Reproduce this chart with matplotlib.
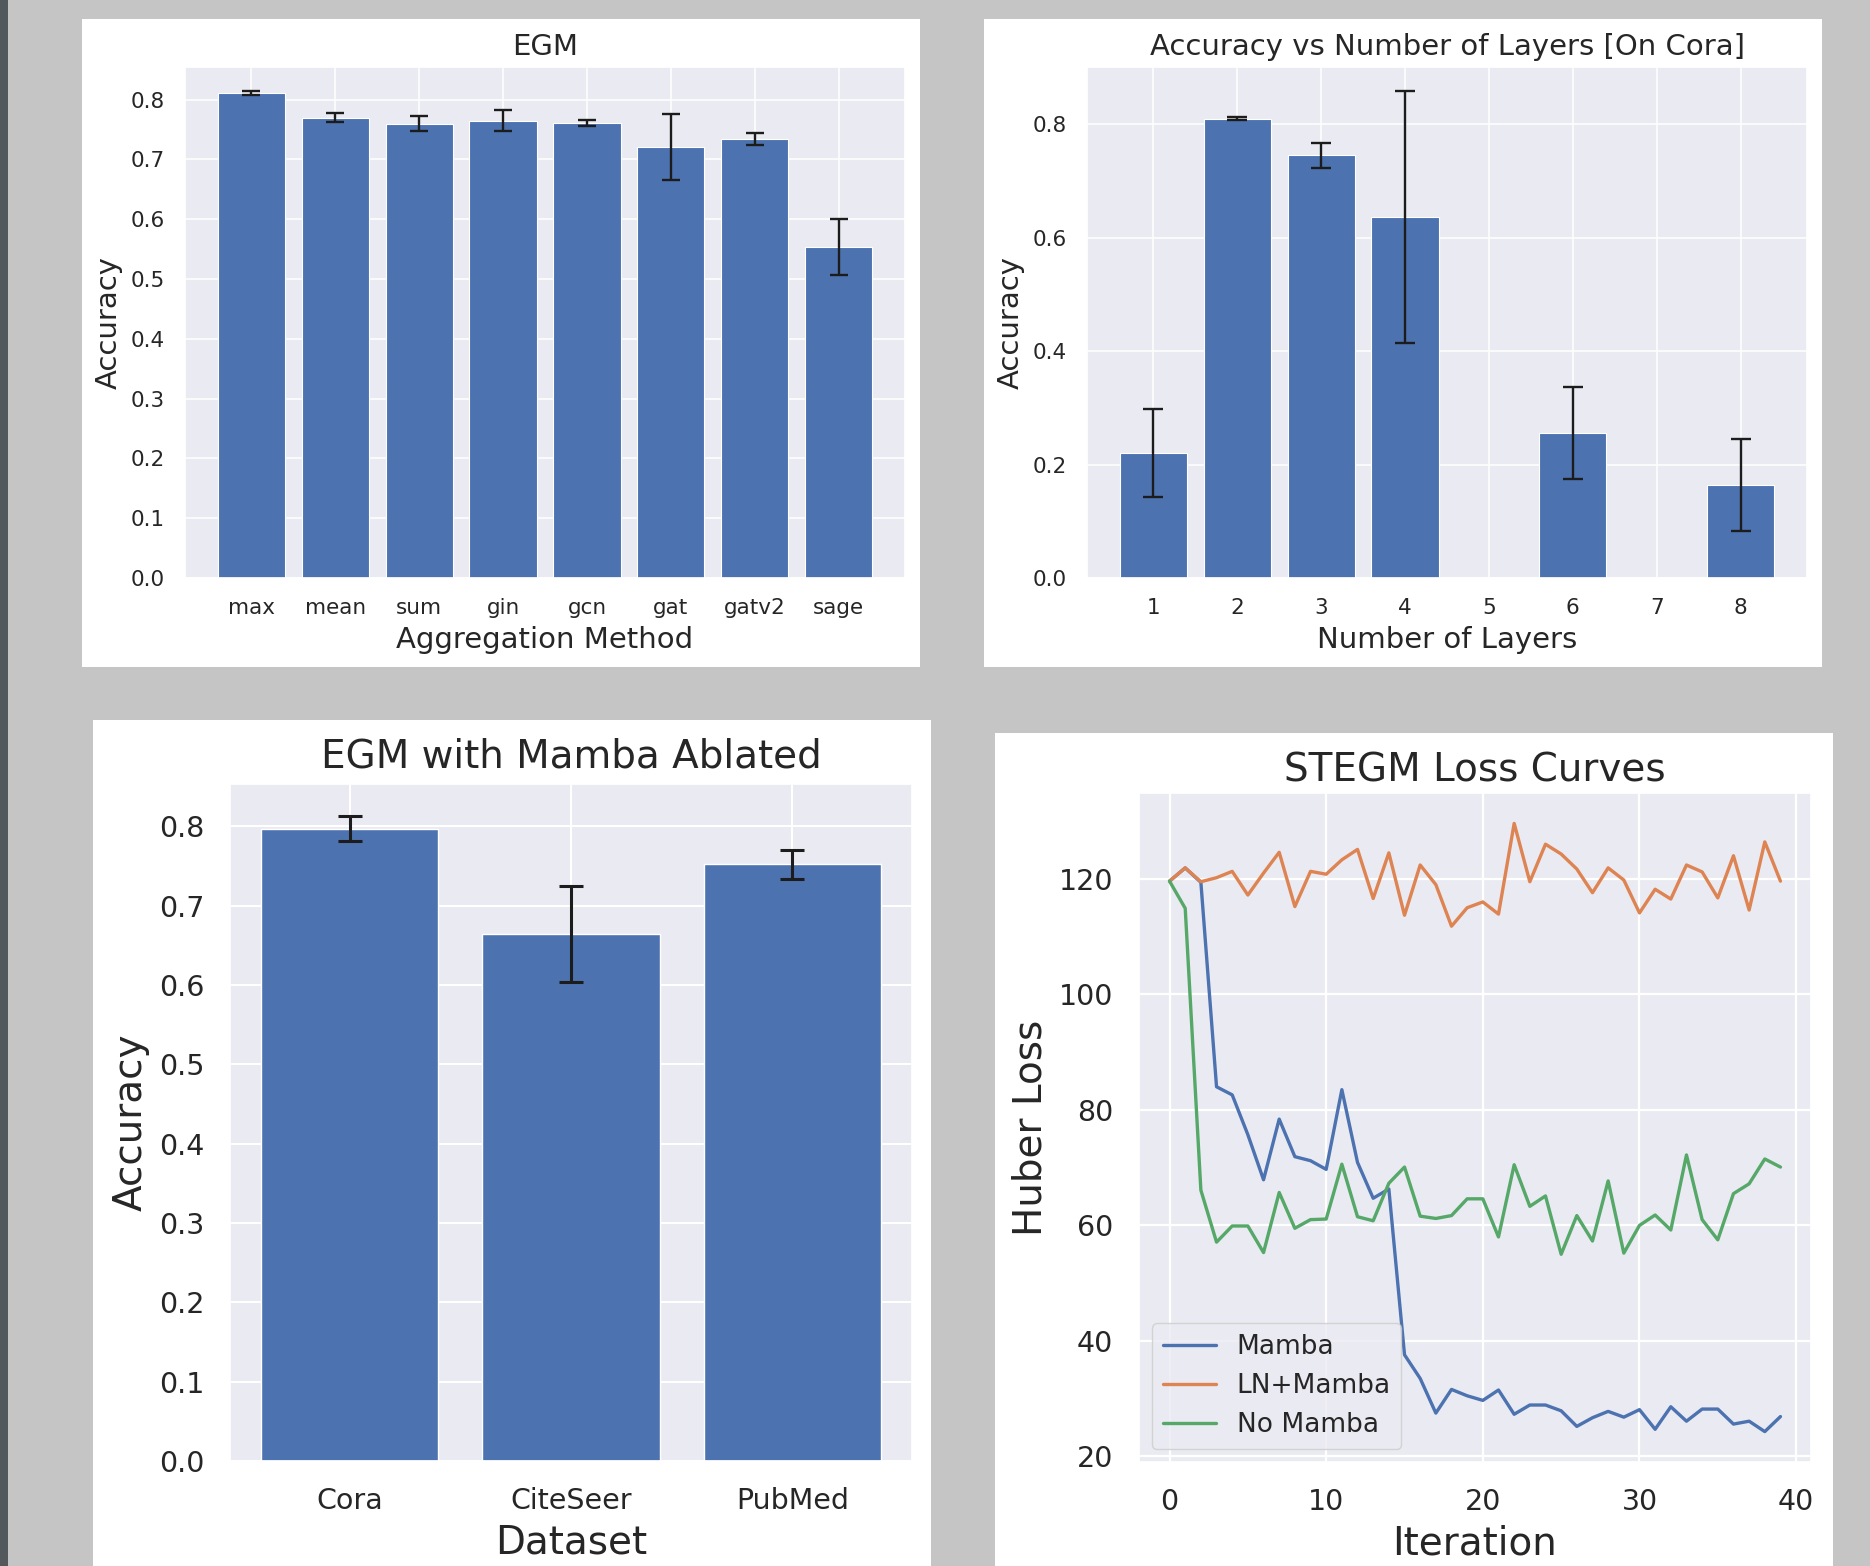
import matplotlib
matplotlib.use('Agg')
import matplotlib.pyplot as plt
import seaborn as sns
from matplotlib.patches import Rectangle

# EGM: aggregation method ablation
agg_methods = ['max', 'mean', 'sum', 'gin', 'gcn', 'gat', 'gatv2', 'sage']
agg_acc = [0.811, 0.770, 0.760, 0.765, 0.761, 0.721, 0.734, 0.554]
agg_err = [0.003, 0.008, 0.012, 0.0175, 0.0045, 0.0556, 0.0097, 0.047]

# accuracy vs number of layers (no runs for 5 and 7)
layer_ticks = [1, 2, 3, 4, 5, 6, 7, 8]
layers = [1, 2, 3, 4, 6, 8]
layer_acc = [0.220, 0.810, 0.745, 0.636, 0.255, 0.164]
layer_err = [0.078, 0.003, 0.0216, 0.222, 0.081, 0.081]

# mamba ablated
datasets = ['Cora', 'CiteSeer', 'PubMed']
ds_acc = [0.797, 0.664, 0.752]
ds_err = [0.0157, 0.0606, 0.0185]

# STEGM loss curves
loss_mamba = [119.6, 121.9, 119.4, 84.0, 82.6, 75.7, 67.9, 78.4, 71.9, 71.2,
              69.7, 83.5, 70.9, 64.7, 66.3, 37.6, 33.5, 27.5, 31.6, 30.5,
              29.7, 31.5, 27.3, 28.9, 28.9, 27.9, 25.2, 26.7, 27.8, 26.8,
              28.1, 24.7, 28.6, 26.1, 28.2, 28.2, 25.6, 26.1, 24.3, 26.9]
loss_ln_mamba = [119.6, 121.9, 119.5, 120.2, 121.3, 117.2, 121.0, 124.6, 115.2, 121.3,
                 120.8, 123.3, 125.1, 116.6, 124.5, 113.7, 122.4, 119.0, 111.8, 115.0,
                 116.0, 113.9, 129.6, 119.5, 126.0, 124.3, 121.7, 117.6, 121.9, 119.8,
                 114.1, 118.2, 116.5, 122.4, 121.2, 116.7, 124.0, 114.6, 126.4, 119.6]
loss_no_mamba = [119.6, 114.9, 66.1, 57.1, 59.9, 59.9, 55.3, 65.7, 59.5, 61.0,
                 61.1, 70.6, 61.5, 60.8, 67.3, 70.1, 61.6, 61.2, 61.7, 64.6,
                 64.6, 58.0, 70.5, 63.3, 65.1, 55.0, 61.7, 57.3, 67.7, 55.2,
                 60.0, 61.8, 59.2, 72.2, 61.0, 57.5, 65.5, 67.2, 71.5, 70.1]

W, H = 1870, 1566
BAR = '#4C72B0'
ERR = '#1c1c1c'
TXT = '#262626'

sns.set_theme(style='darkgrid')
plt.rcParams['font.family'] = ['DejaVu Sans']


def box(l, t, r, b):
    # pixel box (top-left origin) -> figure fraction rect
    return [l / W, 1 - b / H, (r - l) / W, (b - t) / H]


def panel(fig, l, t, r, b):
    x, y, w, h = box(l, t, r, b)
    fig.add_artist(Rectangle((x, y), w, h, transform=fig.transFigure,
                             facecolor='white', edgecolor='none', zorder=-1))


def style_axes(ax, tick_fs, tick_pad, grid_lw):
    ax.tick_params(labelsize=tick_fs, colors=TXT, pad=tick_pad)
    ax.grid(True, color='white', linewidth=grid_lw)
    ax.set_axisbelow(True)


def labels(ax, title, xlab, ylab, fs, title_pad, label_pad):
    ax.set_title(title, fontsize=fs, color=TXT, pad=title_pad)
    ax.set_xlabel(xlab, fontsize=fs, color=TXT, labelpad=label_pad)
    ax.set_ylabel(ylab, fontsize=fs, color=TXT, labelpad=label_pad)


fig = plt.figure(figsize=(W / 100, H / 100), dpi=100)
fig.patch.set_facecolor('#c4c5c4')
fig.add_artist(Rectangle((0, 0), 8 / W, 1, transform=fig.transFigure,
                         facecolor='#53585c', edgecolor='none', zorder=-1))

panel(fig, 82, 19, 920, 667)
panel(fig, 984, 19, 1822, 667)
panel(fig, 93, 720, 931, H + 5)
panel(fig, 995, 733, 1833, H + 5)

# top left
ax1 = fig.add_axes(box(185, 67, 905, 578))
ax1.bar(agg_methods, agg_acc, yerr=agg_err, color=BAR, edgecolor='white', linewidth=0.8,
        capsize=6.5, error_kw=dict(ecolor=ERR, elinewidth=1.7, capthick=1.7))
ax1.set_yticks([0.0, 0.1, 0.2, 0.3, 0.4, 0.5, 0.6, 0.7, 0.8])
style_axes(ax1, 15.5, 8.5, 1.1)
labels(ax1, 'EGM', 'Aggregation Method', 'Accuracy', 21, 8.5, 5.5)

# top right
ax2 = fig.add_axes(box(1087, 67, 1807, 578))
ax2.bar(layers, layer_acc, yerr=layer_err, color=BAR, edgecolor='white', linewidth=0.8,
        capsize=7.5, error_kw=dict(ecolor=ERR, elinewidth=1.7, capthick=1.7))
ax2.set_xticks(layer_ticks)
ax2.set_yticks([0.0, 0.2, 0.4, 0.6, 0.8])
style_axes(ax2, 15.5, 8.5, 1.1)
labels(ax2, 'Accuracy vs Number of Layers [On Cora]', 'Number of Layers', 'Accuracy',
       21, 8.5, 5.5)

# bottom left
ax3 = fig.add_axes(box(230, 784, 912, 1461))
ax3.bar(datasets, ds_acc, yerr=ds_err, color=BAR, edgecolor='white', linewidth=1.0,
        capsize=8.5, error_kw=dict(ecolor=ERR, elinewidth=2.2, capthick=2.2))
ax3.set_yticks([0.0, 0.1, 0.2, 0.3, 0.4, 0.5, 0.6, 0.7, 0.8])
style_axes(ax3, 20.5, 12.5, 1.5)
labels(ax3, 'EGM with Mamba Ablated', 'Dataset', 'Accuracy', 28, 12, 6.5)

# bottom right
ax4 = fig.add_axes(box(1139, 793, 1811, 1462))
ax4.plot(loss_mamba, color='#4C72B0', linewidth=2.4, label='Mamba')
ax4.plot(loss_ln_mamba, color='#DD8452', linewidth=2.4, label='LN+Mamba')
ax4.plot(loss_no_mamba, color='#55A868', linewidth=2.4, label='No Mamba')
ax4.set_xticks([0, 10, 20, 30, 40])
ax4.set_yticks([20, 40, 60, 80, 100, 120])
style_axes(ax4, 20.5, 12.5, 1.6)
labels(ax4, 'STEGM Loss Curves', 'Iteration', 'Huber Loss', 28, 8.5, 6.5)
leg = ax4.legend(loc='lower left', fontsize=19)
for t in leg.get_texts():
    t.set_color(TXT)

fig.savefig('out.png', dpi=100, facecolor=fig.get_facecolor())
